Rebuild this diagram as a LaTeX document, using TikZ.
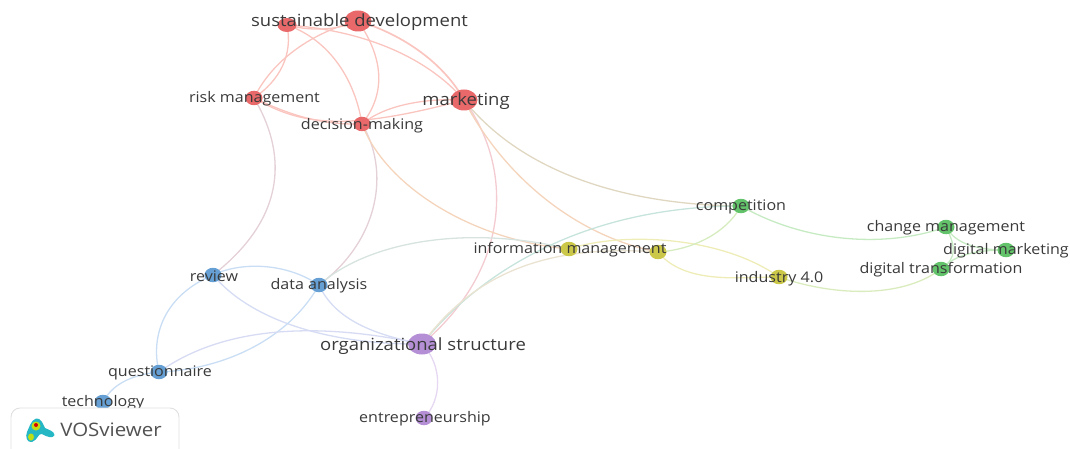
\documentclass[tikz,border=0pt]{standalone}
\usepackage{fontspec}
\usetikzlibrary{shapes.geometric}
\setmainfont{Open Sans}[FakeStretch=1.1]
\definecolor{rd}{HTML}{E9696A}
\definecolor{rl}{HTML}{FAC4BF}
\definecolor{bl}{HTML}{659FD3}
\definecolor{bll}{HTML}{C9DEF4}
\definecolor{gn}{HTML}{63C36A}
\definecolor{gl}{HTML}{C6EBC3}
\definecolor{yl}{HTML}{CBC748}
\definecolor{yll}{HTML}{EEEDB8}
\definecolor{pu}{HTML}{B48FD6}
\definecolor{pl}{HTML}{E6D8F2}
\definecolor{txt}{HTML}{3A3A3A}
\tikzset{
  dot/.style={ellipse,inner sep=0pt,draw=none},
  smalldot/.style={dot,minimum width=17pt,minimum height=14.5pt},
  lab/.style={text=txt,inner sep=0pt,font=\fontsize{14.6}{15}\selectfont},
  biglab/.style={text=txt,inner sep=0pt,font=\fontsize{16.8}{17}\selectfont},
  link/.style={line width=1.3pt}
}
\begin{document}
\begin{tikzpicture}[x=1pt,y=-1pt]
\useasboundingbox (0,0) rectangle (1070,449);
\coordinate (sd) at (358,21);
\coordinate (s2) at (287,25);
\coordinate (rm) at (254,98);
\coordinate (dm) at (362,124);
\coordinate (mk) at (464,100);
\coordinate (cp) at (741,206);
\coordinate (cm) at (946,227);
\coordinate (dg) at (1006,250);
\coordinate (dt) at (941,269);
\coordinate (in) at (779,277);
\coordinate (im) at (569,249);
\coordinate (y2) at (658,252);
\coordinate (rv) at (213,275);
\coordinate (da) at (319,285);
\coordinate (os) at (422,344);
\coordinate (qs) at (159,372);
\coordinate (te) at (103,402);
\coordinate (en) at (424,418);
% red links
\draw[link,rl] (sd) .. controls (320,30) and (275,55) .. (rm);
\draw[link,rl] (s2) .. controls (293,55) and (280,80) .. (rm);
\draw[link,rl] (s2) .. controls (330,40) and (355,80) .. (dm);
\draw[link,rl] (sd) .. controls (385,60) and (385,95) .. (dm);
\draw[link,rl,line width=1.7pt] (sd) .. controls (405,35) and (445,65) .. (mk);
\draw[link,rl] (s2) .. controls (360,30) and (425,55) .. (mk);
\draw[link,rl] (s2) .. controls (310,31) and (335,31) .. (sd);
\draw[link,rl] (rm) .. controls (290,115) and (320,125) .. (dm);
\draw[link,rl] (rm) .. controls (300,125) and (345,132) .. (mk);
\draw[link,rl] (dm) .. controls (385,105) and (425,98) .. (mk);
% inter-cluster
\draw[link,rl!55!bll] (rm) .. controls (285,150) and (290,215) .. (rv);
\draw[link,rl!55!bll] (dm) .. controls (390,170) and (380,240) .. (da);
\draw[link,rl!65!pl] (mk) .. controls (515,170) and (510,270) .. (os);
\draw[link,rl!60!yll] (dm) .. controls (385,185) and (470,240) .. (im);
\draw[link,rl!50!gl] (mk) .. controls (520,170) and (620,205) .. (cp);
\draw[link,rl!60!yll] (mk) .. controls (500,170) and (570,235) .. (y2);
\draw[link,bll!65!yll] (da) .. controls (370,240) and (470,225) .. (im);
\draw[link,yll] (im) .. controls (620,232) and (720,235) .. (in);
\draw[link,bll!50!gl] (os) .. controls (490,260) and (600,206) .. (cp);
\draw[link,yll!55!pl] (os) .. controls (480,265) and (560,245) .. (y2);
\draw[link,yll!40!gl] (y2) .. controls (690,250) and (725,235) .. (cp);
\draw[link,yll] (y2) .. controls (685,285) and (740,277) .. (in);
\draw[link,yll!50!gl] (in) .. controls (830,295) and (900,300) .. (dt);
\draw[link,gl] (cp) .. controls (800,240) and (880,250) .. (cm);
\draw[link,gl] (cm) .. controls (955,243) and (975,250) .. (dg);
\draw[link,gl] (cm) .. controls (955,245) and (958,258) .. (dt);
\draw[link,gl] (dg) .. controls (975,250) and (955,255) .. (dt);
% blue
\draw[link,bll] (rv) .. controls (240,262) and (285,262) .. (da);
\draw[link,bll] (rv) .. controls (165,295) and (150,335) .. (qs);
\draw[link,bll!60!pl] (rv) .. controls (255,325) and (340,345) .. (os);
\draw[link,bll!60!pl] (da) .. controls (335,320) and (375,335) .. (os);
\draw[link,bll] (da) .. controls (285,345) and (215,370) .. (qs);
\draw[link,bll!50!pl] (qs) .. controls (225,325) and (320,322) .. (os);
\draw[link,bll] (qs) .. controls (130,375) and (112,385) .. (te);
\draw[link,pl] (os) .. controls (443,365) and (442,400) .. (en);
% nodes
\node[dot,fill=rd,minimum width=27pt,minimum height=21pt] (nsd) at (sd) {};
\node[dot,fill=rd,minimum width=19pt,minimum height=14pt] (ns2) at (s2) {};
\node[smalldot,fill=rd] (nrm) at (rm) {};
\node[smalldot,fill=rd] (ndm) at (dm) {};
\node[dot,fill=rd,minimum width=27pt,minimum height=21pt] (nmk) at (mk) {};
\node[smalldot,fill=gn] (ncp) at (cp) {};
\node[smalldot,fill=gn] (ncm) at (cm) {};
\node[smalldot,fill=gn] (ndg) at (dg) {};
\node[smalldot,fill=gn] (ndt) at (dt) {};
\node[smalldot,fill=yl] (nin) at (in) {};
\node[smalldot,fill=yl] (nim) at (im) {};
\node[smalldot,fill=yl] (ny2) at (y2) {};
\node[smalldot,fill=bl] (nrv) at (rv) {};
\node[smalldot,fill=bl] (nda) at (da) {};
\node[dot,fill=pu,minimum width=28pt,minimum height=21pt] (nos) at (os) {};
\node[smalldot,fill=bl] (nqs) at (qs) {};
\node[smalldot,fill=bl] (nte) at (te) {};
\node[smalldot,fill=pu] (nen) at (en) {};
% labels
\node[biglab] at (359.5,22) {sustainable development};
\node[lab] at (254.5,99) {risk management};
\node[biglab] at (466,101) {marketing};
\node[lab] at (362,126) {decision-making};
\node[lab] at (741,207) {competition};
\node[lab] at (946,228) {change management};
\node[lab] at (1006,251) {digital marketing};
\node[lab] at (941,270) {digital transformation};
\node[lab] at (779,279) {industry 4.0};
\node[lab] at (570,250) {information management};
\node[lab] at (214,276) {review};
\node[lab] at (319,286) {data analysis};
\node[biglab] at (423,346) {organizational structure};
\node[lab] at (160,373) {questionnaire};
\node[lab] at (103,403) {technology};
\node[lab] at (425,419) {entrepreneurship};
% logo
\draw[draw=black!12,line width=0.9pt,rounded corners=9pt,fill=white] (11,449) -- (11,408) -- (179,408) -- (179,449);
\fill[cyan!70!green!85] (36,418.5) .. controls (41,417.5) and (43,424) .. (45,428) .. controls (49,430) and (54,431) .. (54.5,435) .. controls (53,439) and (47,437) .. (42,434) .. controls (38,433) and (38,440) .. (32,442) .. controls (27,443) and (25,437) .. (27,432) .. controls (29,428) and (31,420) .. (36,418.5) -- cycle;
\fill[yellow!75!green] (31,437) ellipse (3pt and 3.5pt);
\fill[yellow!75!green] (36,426) ellipse (4.5pt and 4.5pt);
\fill[red!85!black] (36,425) circle (2pt);
\node[text=black!68,inner sep=0pt,font=\fontsize{18.6}{19}\selectfont] (vos) at (111,430) {VOSviewer};
\end{tikzpicture}
\end{document}
